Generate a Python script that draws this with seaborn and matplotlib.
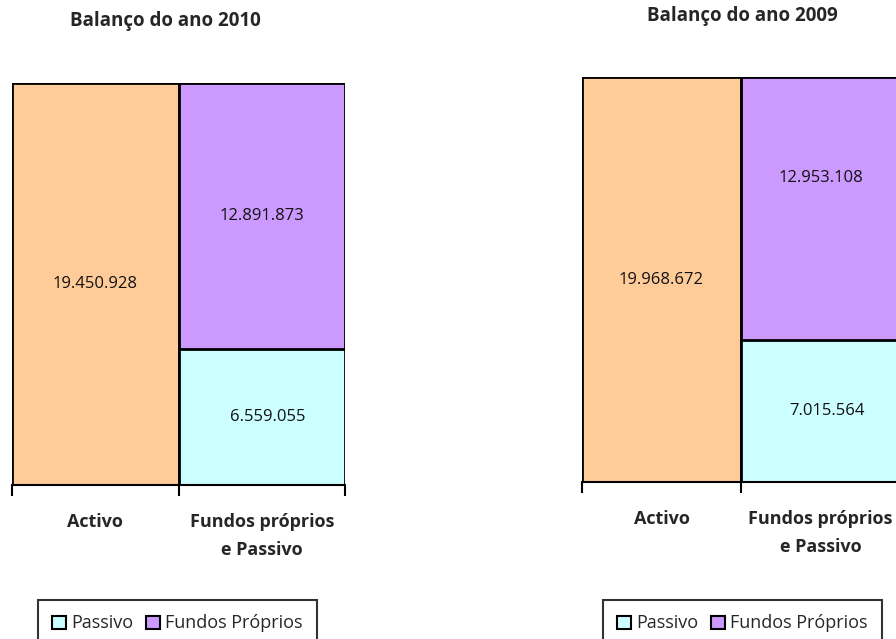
import matplotlib

matplotlib.use("Agg")

import matplotlib.pyplot as plt  # noqa: E402
import seaborn as sns  # noqa: E402
from matplotlib.patches import Patch  # noqa: E402

# --- data -------------------------------------------------------------------
categorias = ["Activo", "Fundos próprios\ne Passivo"]
anos = ["2010", "2009"]
activo = [19450928, 19968672]
passivo = [6559055, 7015564]
fundos_proprios = [12891873, 12953108]

COR_ACTIVO = "#FFCC99"
COR_FUNDOS = "#CC99FF"
COR_PASSIVO = "#CCFFFF"

sns.set_style("white")
plt.rcParams["font.family"] = ["Open Sans", "DejaVu Sans"]


def fmt_pt(v):
    return f"{v:,.0f}".replace(",", ".")


def draw_balance(ax, idx, fundos_dy=0):
    total = passivo[idx] + fundos_proprios[idx]
    edge = dict(edgecolor="black", linewidth=2)
    # activo + full height of the right stack (fundos on top of passivo)
    sns.barplot(
        x=categorias,
        y=[activo[idx], total],
        hue=categorias,
        palette=[COR_ACTIVO, COR_FUNDOS],
        order=categorias,
        width=1.0,
        saturation=1,
        legend=False,
        ax=ax,
        **edge,
    )
    sns.barplot(
        x=[categorias[1]],
        y=[passivo[idx]],
        order=categorias,
        color=COR_PASSIVO,
        width=1.0,
        saturation=1,
        ax=ax,
        **edge,
    )
    txt = dict(ha="center", va="center", fontsize=12, color="#111111",
               textcoords="offset pixels")
    ax.annotate(fmt_pt(activo[idx]), (0, activo[idx] / 2), xytext=(0, 0), **txt)
    ax.annotate(fmt_pt(fundos_proprios[idx]), (1, passivo[idx] + fundos_proprios[idx] / 2),
                xytext=(0, fundos_dy), **txt)
    ax.annotate(fmt_pt(passivo[idx]), (1, passivo[idx] / 2), xytext=(6, 0), **txt)

    ax.set_xlim(-0.5, 1.5)
    ax.set_ylim(0, max(activo[idx], total))
    ax.set_xlabel("")
    ax.set_ylabel("")
    ax.set_yticks([])
    for side in ["left", "right", "top"]:
        ax.spines[side].set_visible(False)
    ax.spines["bottom"].set_color("black")
    ax.spines["bottom"].set_linewidth(1.5)

    # ticks between categories, labels under the middle of each bar
    ax.set_xticks([-0.5, 0.5, 1.5])
    ax.set_xticklabels([])
    ax.tick_params(axis="x", which="major", direction="out", length=8, width=1.5,
                   color="black", bottom=True)
    ax.set_xticks([0, 1], minor=True)
    ax.set_xticklabels(categorias, minor=True, fontweight="bold", fontsize=13,
                       linespacing=1.75)
    ax.tick_params(axis="x", which="minor", length=0, pad=20)

    handles = [
        Patch(facecolor=COR_PASSIVO, edgecolor="black", linewidth=1.5, label="Passivo"),
        Patch(facecolor=COR_FUNDOS, edgecolor="black", linewidth=1.5, label="Fundos Próprios"),
    ]
    return handles


fig = plt.figure(figsize=(8.96, 6.39), dpi=100)
ax_left = fig.add_axes([12 / 896, 1 - 485 / 639, 333 / 896, 402 / 639])
ax_right = fig.add_axes([582 / 896, 1 - 482 / 639, 318 / 896, 405 / 639])

h = draw_balance(ax_left, 0)
draw_balance(ax_right, 1, fundos_dy=30)

fig.text(165 / 896, 1 - 21 / 639, f"Balanço do ano {anos[0]}", ha="center", va="center",
         fontweight="bold", fontsize=13.5)
fig.text(742 / 896, 1 - 16 / 639, f"Balanço do ano {anos[1]}", ha="center", va="center",
         fontweight="bold", fontsize=13.5)

legend_kw = dict(
    handles=h,
    loc="upper left",
    ncol=2,
    frameon=True,
    fancybox=False,
    edgecolor="black",
    fontsize=13,
    handlelength=0.75,
    handleheight=0.75,
    handletextpad=0.3,
    columnspacing=0.7,
    borderpad=0.8,
    borderaxespad=0,
)
leg1 = fig.legend(bbox_to_anchor=(38 / 896, 1 - 600 / 639), **legend_kw)
leg1.get_frame().set_linewidth(1.5)
leg2 = fig.legend(bbox_to_anchor=(603 / 896, 1 - 600 / 639), **legend_kw)
leg2.get_frame().set_linewidth(1.5)

fig.savefig("out.png", dpi=100)
